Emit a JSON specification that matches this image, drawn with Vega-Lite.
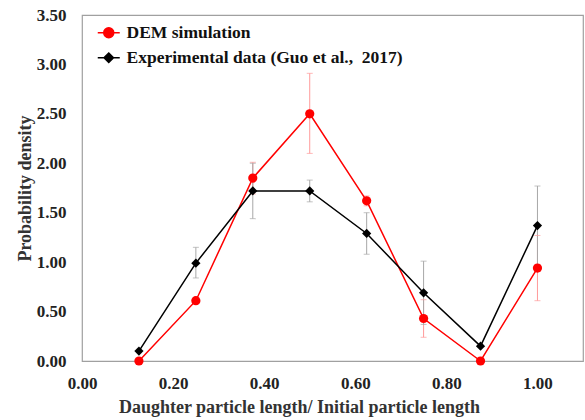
{
  "$schema": "https://vega.github.io/schema/vega-lite/v6.json",
  "autosize": "none",
  "width": 501,
  "height": 346,
  "padding": {"left": 82, "top": 15, "right": 2, "bottom": 59},
  "background": "white",
  "config": {
    "view": {"stroke": "#a0a0a0", "strokeWidth": 1.2},
    "font": "Liberation Serif",
    "axis": {
      "labelFont": "Liberation Serif",
      "labelFontWeight": "bold",
      "labelFontSize": 17,
      "labelColor": "#222",
      "labelFlush": false,
      "titleFont": "Liberation Serif",
      "titleFontWeight": "bold",
      "titleFontSize": 18,
      "titleColor": "#333",
      "grid": false,
      "ticks": false,
      "domain": false
    }
  },
  "data": {
    "values": [
      {"series": "DEM simulation", "x": 0.125, "y": 0.0, "lo": null, "hi": null},
      {"series": "DEM simulation", "x": 0.25, "y": 0.61, "lo": null, "hi": null},
      {"series": "DEM simulation", "x": 0.375, "y": 1.85, "lo": 1.69, "hi": 2.01},
      {"series": "DEM simulation", "x": 0.5, "y": 2.5, "lo": 2.1, "hi": 2.91},
      {"series": "DEM simulation", "x": 0.625, "y": 1.62, "lo": 1.57, "hi": 1.67},
      {"series": "DEM simulation", "x": 0.75, "y": 0.43, "lo": 0.24, "hi": 0.62},
      {"series": "DEM simulation", "x": 0.875, "y": 0.0, "lo": null, "hi": null},
      {"series": "DEM simulation", "x": 1.0, "y": 0.94, "lo": 0.61, "hi": 1.27},
      {"series": "Experimental data (Guo et al.,\u00a0 2017)", "x": 0.125, "y": 0.1, "lo": null, "hi": null},
      {"series": "Experimental data (Guo et al.,\u00a0 2017)", "x": 0.25, "y": 0.99, "lo": 0.84, "hi": 1.15},
      {"series": "Experimental data (Guo et al.,\u00a0 2017)", "x": 0.375, "y": 1.72, "lo": 1.44, "hi": 2.0},
      {"series": "Experimental data (Guo et al.,\u00a0 2017)", "x": 0.5, "y": 1.72, "lo": 1.61, "hi": 1.83},
      {"series": "Experimental data (Guo et al.,\u00a0 2017)", "x": 0.625, "y": 1.29, "lo": 1.08, "hi": 1.5},
      {"series": "Experimental data (Guo et al.,\u00a0 2017)", "x": 0.75, "y": 0.69, "lo": 0.37, "hi": 1.01},
      {"series": "Experimental data (Guo et al.,\u00a0 2017)", "x": 0.875, "y": 0.15, "lo": null, "hi": null},
      {"series": "Experimental data (Guo et al.,\u00a0 2017)", "x": 1.0, "y": 1.37, "lo": 0.97, "hi": 1.77}
    ]
  },
  "layer": [
    {
      "transform": [{"filter": "datum.lo != null"}],
      "mark": {"type": "rule", "strokeWidth": 1},
      "encoding": {
        "x": {"field": "x", "type": "quantitative"},
        "y": {"field": "lo", "type": "quantitative"},
        "y2": {"field": "hi"},
        "color": {"field": "series", "type": "nominal", "scale": {"domain": ["DEM simulation", "Experimental data (Guo et al.,\u00a0 2017)"], "range": ["#ff9a9a", "#a8a8a8"]}, "legend": null}
      }
    },
    {
      "transform": [{"filter": "datum.lo != null"}],
      "mark": {"type": "tick", "orient": "horizontal", "size": 6, "thickness": 1},
      "encoding": {
        "x": {"field": "x", "type": "quantitative"},
        "y": {"field": "lo", "type": "quantitative"},
        "color": {"field": "series", "type": "nominal", "scale": {"domain": ["DEM simulation", "Experimental data (Guo et al.,\u00a0 2017)"], "range": ["#ff9a9a", "#a8a8a8"]}, "legend": null}
      }
    },
    {
      "transform": [{"filter": "datum.lo != null"}],
      "mark": {"type": "tick", "orient": "horizontal", "size": 6, "thickness": 1},
      "encoding": {
        "x": {"field": "x", "type": "quantitative"},
        "y": {"field": "hi", "type": "quantitative"},
        "color": {"field": "series", "type": "nominal", "scale": {"domain": ["DEM simulation", "Experimental data (Guo et al.,\u00a0 2017)"], "range": ["#ff9a9a", "#a8a8a8"]}, "legend": null}
      }
    },
    {
      "mark": {"type": "line", "strokeWidth": 1.5},
      "encoding": {
        "x": {
          "field": "x", "type": "quantitative",
          "scale": {"domain": [0, 1.1], "nice": false, "zero": false},
          "axis": {"values": [0, 0.2, 0.4, 0.6, 0.8, 1.0], "format": ".2f", "labelPadding": 14, "title": "Daughter particle length/ Initial particle length", "titlePadding": 7, "titleX": 217}
        },
        "y": {
          "field": "y", "type": "quantitative",
          "scale": {"domain": [0, 3.5], "nice": false},
          "axis": {"values": [0, 0.5, 1, 1.5, 2, 2.5, 3, 3.5], "format": ".2f", "labelPadding": 16, "title": "Probability density", "titlePadding": 2}
        },
        "color": {
          "field": "series", "type": "nominal",
          "scale": {"domain": ["DEM simulation", "Experimental data (Guo et al.,\u00a0 2017)"], "range": ["#ff0000", "#000000"]},
          "legend": {
            "orient": "none", "legendX": 18, "legendY": 9, "title": null, "padding": 0,
            "labelFont": "Liberation Serif", "labelFontSize": 17.5, "labelFontWeight": "bold", "labelColor": "#111",
            "labelLimit": 0, "labelOffset": 9, "rowPadding": 6, "symbolSize": 100, "symbolStrokeWidth": 1.5,
            "encode": {
              "symbols": {
                "update": {
                  "shape": {"signal": "datum.value == 'DEM simulation' ? 'M-2.2,0H2.2M1,0A1,1,0,1,1,-1,0A1,1,0,1,1,1,0Z' : 'M-2.2,0H2.2M0,-0.95L0.95,0L0,0.95L-0.95,0Z'"},
                  "fill": {"signal": "datum.value == 'DEM simulation' ? '#ff0000' : '#000000'"},
                  "stroke": {"signal": "datum.value == 'DEM simulation' ? '#ff0000' : '#000000'"}
                }
              }
            }
          }
        }
      }
    },
    {
      "mark": {"type": "point", "filled": true, "opacity": 1, "size": 85},
      "encoding": {
        "x": {"field": "x", "type": "quantitative"},
        "y": {"field": "y", "type": "quantitative"},
        "color": {"field": "series", "type": "nominal", "scale": {"domain": ["DEM simulation", "Experimental data (Guo et al.,\u00a0 2017)"], "range": ["#ff0000", "#000000"]}, "legend": null},
        "shape": {"field": "series", "type": "nominal", "scale": {"domain": ["DEM simulation", "Experimental data (Guo et al.,\u00a0 2017)"], "range": ["circle", "diamond"]}, "legend": null}
      }
    }
  ],
  "resolve": {"scale": {"color": "independent"}}
}
